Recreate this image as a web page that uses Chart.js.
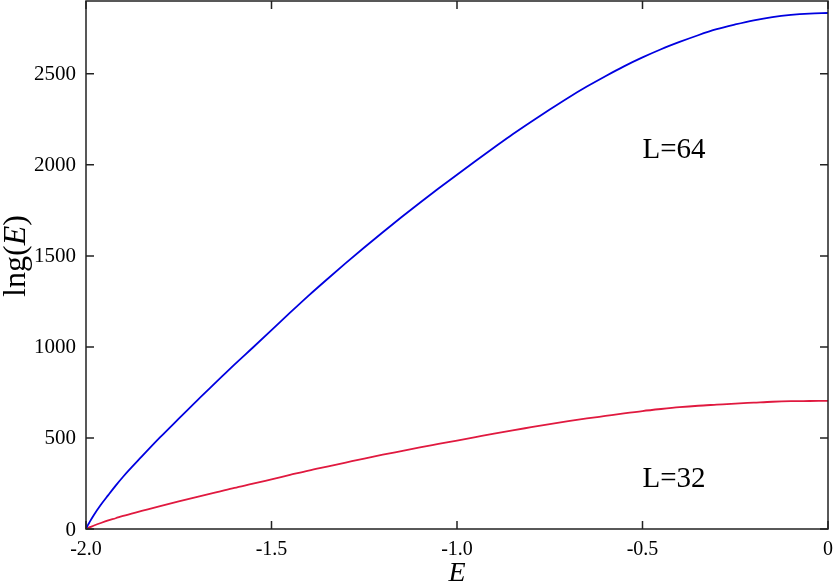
<!DOCTYPE html>
<html>
<head>
<meta charset="utf-8">
<script src="https://cdn.jsdelivr.net/npm/chart.js@4.4.1/dist/chart.umd.min.js"></script>
<style>
  html, body { margin: 0; padding: 0; background: #fff; }
  #wrap { width: 833px; height: 582px; }
</style>
</head>
<body>
<div id="wrap"><canvas id="chart" width="833" height="582"></canvas></div>
<script>
// Energía por espín (eje x)
const energies = [-2, -1.995, -1.99, -1.98, -1.96, -1.94, -1.92, -1.90, -1.85, -1.80,
  -1.75, -1.70, -1.65, -1.60, -1.55, -1.50, -1.45, -1.40, -1.35, -1.30,
  -1.25, -1.20, -1.15, -1.10, -1.05, -1.00, -0.95, -0.90, -0.85, -0.80,
  -0.75, -0.70, -0.65, -0.60, -0.55, -0.50, -0.45, -0.40, -0.35, -0.30,
  -0.25, -0.20, -0.15, -0.10, -0.05, 0]

// ln g(E) para L=64
const lng64 = [0, 21, 39, 73, 133, 186, 238, 287, 397, 504,
  606, 707, 805, 903, 997, 1092, 1188, 1282, 1372, 1460,
  1546, 1630, 1712, 1792, 1870, 1946, 2021, 2095, 2168, 2237,
  2304, 2369, 2430, 2487, 2541, 2590, 2635, 2675, 2712, 2745,
  2771, 2794, 2812, 2824, 2831, 2834]

// ln g(E) para L=32
const lng32 = [0, 5, 10, 18, 33, 47, 59, 72, 99, 126,
  152, 177, 201, 226, 249, 273, 297, 321, 343, 365,
  387, 408, 428, 448, 467, 486, 505, 524, 542, 559,
  576, 592, 607, 621, 635, 648, 659, 669, 677, 683,
  689, 694, 699, 702, 703, 704]

const xTicks = [-2, -1.5, -1, -0.5, 0]
const xTickLabels = ['-2.0', '-1.5', '-1.0', '-0.5', '0']
const yTicks = [0, 500, 1000, 1500, 2000, 2500]
const yTickLabels = ['0', '500', '1000', '1500', '2000', '2500']

const serif = "'Liberation Serif', 'Times New Roman', serif"

// Marco, marcas hacia dentro, números, títulos y etiquetas
const framePlugin = {
  id: 'frame',
  afterDraw(chart) {
    const ctx = chart.ctx
    const a = chart.chartArea
    const xs = chart.scales.x
    const ys = chart.scales.y
    const tl = 8
    ctx.save()
    ctx.strokeStyle = '#222'
    ctx.lineWidth = 1.5
    ctx.strokeRect(a.left, a.top, a.right - a.left, a.bottom - a.top)
    ctx.beginPath()
    xTicks.forEach(v => {
      const px = xs.getPixelForValue(v)
      ctx.moveTo(px, a.bottom); ctx.lineTo(px, a.bottom - tl)
      ctx.moveTo(px, a.top); ctx.lineTo(px, a.top + tl)
    })
    yTicks.forEach(v => {
      const py = ys.getPixelForValue(v)
      ctx.moveTo(a.left, py); ctx.lineTo(a.left + tl, py)
      ctx.moveTo(a.right, py); ctx.lineTo(a.right - tl, py)
    })
    ctx.stroke()

    ctx.fillStyle = '#000'
    // Números de los ejes
    ctx.font = '21px ' + serif
    ctx.textAlign = 'right'
    ctx.textBaseline = 'middle'
    yTicks.forEach((v, i) => ctx.fillText(yTickLabels[i], a.left - 10, ys.getPixelForValue(v) + 1))
    ctx.font = '20px ' + serif
    ctx.textAlign = 'center'
    ctx.textBaseline = 'alphabetic'
    xTicks.forEach((v, i) => ctx.fillText(xTickLabels[i], xs.getPixelForValue(v), a.bottom + 26))

    // Título del eje x
    ctx.font = 'italic 28px ' + serif
    ctx.fillText('E', (a.left + a.right) / 2, 581)

    // Título del eje y: ln g(E) con E en cursiva
    const parts = [['lng(', ''], ['E', 'italic '], [')', '']]
    ctx.translate(17, 256)
    ctx.rotate(-Math.PI / 2)
    ctx.textAlign = 'left'
    ctx.textBaseline = 'middle'
    let total = 0
    parts.forEach(p => { ctx.font = p[1] + '32px ' + serif; total += ctx.measureText(p[0]).width })
    let cx = -total / 2
    parts.forEach(p => {
      ctx.font = p[1] + '32px ' + serif
      ctx.fillText(p[0], cx, 0)
      cx += ctx.measureText(p[0]).width
    })
    ctx.setTransform(1, 0, 0, 1, 0, 0)

    // Etiquetas de las curvas
    ctx.font = '29px ' + serif
    ctx.textAlign = 'left'
    ctx.textBaseline = 'alphabetic'
    ctx.fillText('L=64', xs.getPixelForValue(-0.5), ys.getPixelForValue(2040))
    ctx.fillText('L=32', xs.getPixelForValue(-0.5), ys.getPixelForValue(230))
    ctx.restore()
  }
}

new Chart(document.getElementById('chart'), {
  type: 'line',
  data: {
    datasets: [{
      label: 'L=64',
      data: energies.map((e, i) => ({ x: e, y: lng64[i] })),
      borderColor: '#0000e0',
      borderWidth: 1.8,
      pointRadius: 0,
      cubicInterpolationMode: 'monotone'
    }, {
      label: 'L=32',
      data: energies.map((e, i) => ({ x: e, y: lng32[i] })),
      borderColor: '#e0193f',
      borderWidth: 1.8,
      pointRadius: 0,
      cubicInterpolationMode: 'monotone'
    }]
  },
  options: {
    responsive: false,
    animation: false,
    layout: { padding: { top: 1, right: 5, left: 0, bottom: 0 } },
    plugins: { legend: { display: false }, tooltip: { enabled: false } },
    scales: {
      x: {
        type: 'linear',
        min: -2,
        max: 0,
        afterFit: scale => { scale.height = 53 },
        grid: { display: false, drawTicks: false },
        border: { display: false },
        ticks: { display: false }
      },
      y: {
        type: 'linear',
        min: 0,
        max: 2900,
        afterFit: scale => { scale.width = 86 },
        grid: { display: false, drawTicks: false },
        border: { display: false },
        ticks: { display: false }
      }
    }
  },
  plugins: [framePlugin]
})
</script>
</body>
</html>
